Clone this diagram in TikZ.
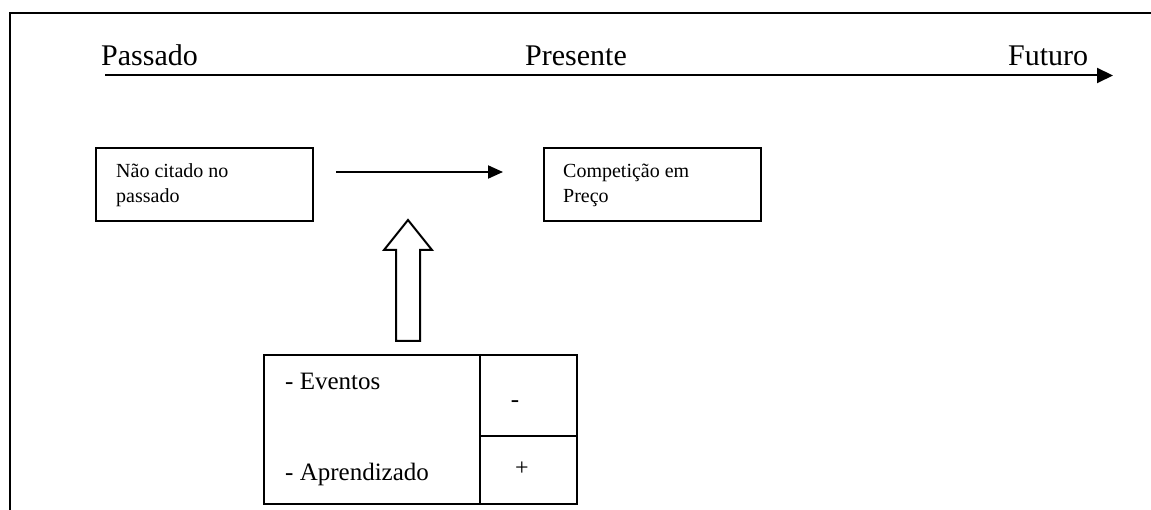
\documentclass[tikz,border=0pt]{standalone}
\usepackage{fontspec}
\setmainfont{Liberation Serif}
\usetikzlibrary{arrows.meta}
\begin{document}
\begin{tikzpicture}[x=1pt,y=-1pt,
  ln/.style={line width=2pt},
  box/.style={draw, line width=2pt, rectangle, inner sep=0pt, anchor=north west},
  big/.style={anchor=base west, inner sep=0pt, font=\fontsize{30}{36}\selectfont},
  small/.style={anchor=base west, inner sep=0pt, font=\fontsize{20}{24}\selectfont},
  mid/.style={anchor=base west, inner sep=0pt, font=\fontsize{25}{30}\selectfont},
  tip/.style={-{Triangle[length=16pt,width=15pt]}},
  tipsmall/.style={-{Triangle[length=15pt,width=13pt]}}]
\useasboundingbox (0,0) rectangle (1151,510);
\fill[white] (0,0) rectangle (1151,510);
% outer frame (top and left)
\draw[ln] (1151,13) -- (9.5,13) -- (9.5,510);
% timeline
\node[big] (pas) at (101,66) {Passado};
\node[big] (pre) at (525,66) {Presente};
\node[big] (fut) at (1008,66) {Futuro};
\coordinate (t0) at (105,75.5);
\coordinate (t1) at (1113,75.5);
\draw[ln,tip] (t0) -- (t1);
% boxes
\node[box, minimum width=217pt, minimum height=73pt] (b1) at (95,147) {};
\node[small] (b1a) at (116,178) {Não citado no};
\node[small] (b1b) at (116,203) {passado};
\node[box, minimum width=217pt, minimum height=73pt] (b2) at (543,147) {};
\node[small] (b2a) at (563,178) {Competição em};
\node[small] (b2b) at (563,203) {Preço};
\coordinate (a1) at (336,172);
\coordinate (a2) at (503,172);
\draw[ln,tipsmall] (a1) -- (a2);
% block arrow
\draw[ln, line join=miter] (408,220) -- (432,250) -- (420,250) -- (420,341) -- (396,341) -- (396,250) -- (384,250) -- cycle;
% table
\node[box, minimum width=313pt, minimum height=149pt] (tb) at (263,354) {};
\draw[ln] (480,354) -- (480,503);
\draw[ln] (480,436) -- (576,436);
\node[mid] (ev) at (285,389) {- Eventos};
\node[mid] (ap) at (285,480) {- Aprendizado};
\node[anchor=base, inner sep=0pt, font=\fontsize{25}{30}\selectfont] (mn) at (515,407) {-};
\node[anchor=base, inner sep=0pt, font=\fontsize{24}{28}\selectfont] (pl) at (522,475) {+};
\end{tikzpicture}
\end{document}
